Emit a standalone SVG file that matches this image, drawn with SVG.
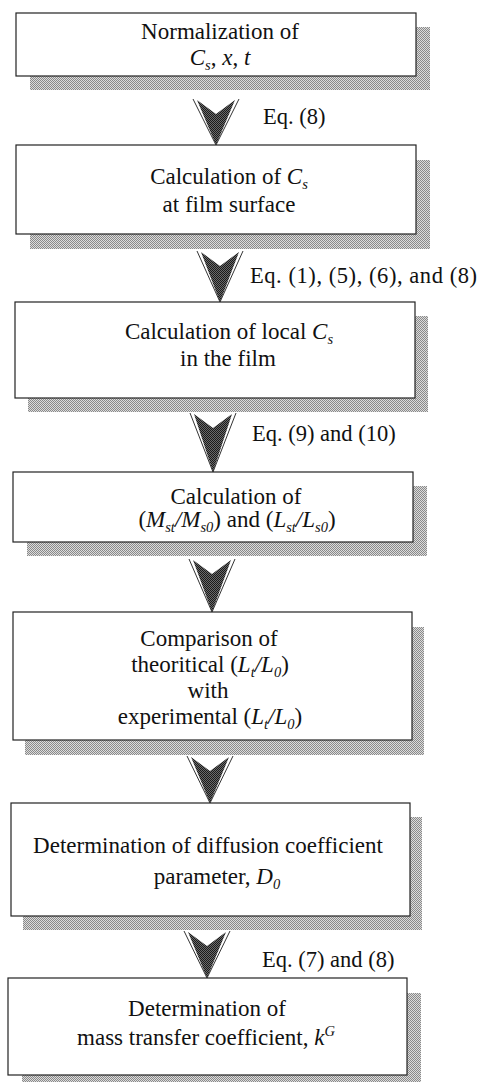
<svg xmlns="http://www.w3.org/2000/svg" width="481" height="1082" viewBox="0 0 481 1082">
<defs>
<pattern id="shade" width="2" height="2" patternUnits="userSpaceOnUse">
<rect width="2" height="2" fill="#dcdcdc"/>
<rect width="1" height="1" fill="#8a8a8a"/>
<rect x="1" y="1" width="1" height="1" fill="#8a8a8a"/>
</pattern>
<pattern id="dark" width="2" height="2" patternUnits="userSpaceOnUse">
<rect width="2" height="2" fill="#6a6a6a"/>
<rect width="1" height="1" fill="#1a1a1a"/>
<rect x="1" y="1" width="1" height="1" fill="#1a1a1a"/>
</pattern>
<style>
.sh{fill:url(#shade);}
.bx{fill:#fff;stroke:#222;stroke-width:1.2;}
.t{font-family:"Liberation Serif","Times New Roman",serif;font-size:23px;fill:#111;text-anchor:middle;}
.l{font-family:"Liberation Serif","Times New Roman",serif;font-size:22.5px;fill:#111;}
.i{font-style:italic;}
.s{font-style:italic;font-size:14.5px;}
.af{fill:url(#dark);}
.ao{fill:none;stroke:#333;stroke-width:1;}
</style>
</defs>
<rect width="481" height="1082" fill="#fff"/>

<g id="connectors">
<g id="a1"><polygon class="af" points="197,100 216,114 235,100 216,145"/><polyline class="ao" points="193,99 216,145 239,99"/></g>
<g id="a2"><polygon class="af" points="201,252 220,266 239,252 220,302"/><polyline class="ao" points="197,251 220,302 243,251"/></g>
<g id="a3"><polygon class="af" points="194,414 213,428 232,414 213,472"/><polyline class="ao" points="190,413 213,472 236,413"/></g>
<g id="a4"><polygon class="af" points="193,560 212,574 231,560 212,612"/><polyline class="ao" points="189,559 212,612 235,559"/></g>
<g id="a5"><polygon class="af" points="191,757 210,771 229,757 210,803"/><polyline class="ao" points="187,756 210,803 233,756"/></g>
<g id="a6"><polygon class="af" points="188,932 207,946 226,932 207,978"/><polyline class="ao" points="184,931 207,978 230,931"/></g>
<text class="l" x="263" y="124">Eq. (8)</text>
<text class="l" x="250" y="283" textLength="227" lengthAdjust="spacing">Eq. (1), (5), (6), and (8)</text>
<text class="l" x="252" y="441">Eq. (9) and (10)</text>
<text class="l" x="262" y="967">Eq. (7) and (8)</text>
</g>

<g id="n1">
<rect class="sh" x="30" y="27" width="400" height="63"/>
<rect class="bx" x="16" y="13" width="400" height="63"/>
<text class="t" x="220" y="39">Normalization of</text>
<text class="t" x="220" y="65"><tspan class="i">C</tspan><tspan class="s" dy="5">s</tspan><tspan dy="-5">, </tspan><tspan class="i">x</tspan>, <tspan class="i">t</tspan></text>
</g>

<g id="n2">
<rect class="sh" x="30" y="160" width="400" height="89"/>
<rect class="bx" x="16" y="145" width="400" height="89"/>
<text class="t" x="229" y="184">Calculation of <tspan class="i">C</tspan><tspan class="s" dy="5">s</tspan></text>
<text class="t" x="229" y="212">at film surface</text>
</g>

<g id="n3">
<rect class="sh" x="28" y="316" width="400" height="96"/>
<rect class="bx" x="15" y="302" width="400" height="96"/>
<text class="t" x="229" y="339">Calculation of local <tspan class="i">C</tspan><tspan class="s" dy="5">s</tspan></text>
<text class="t" x="228" y="366">in the film</text>
</g>

<g id="n4">
<rect class="sh" x="27" y="486" width="400" height="70"/>
<rect class="bx" x="13" y="472" width="400" height="70"/>
<text class="t" x="236" y="504">Calculation of</text>
<text class="t" x="237" y="527">(<tspan class="i">M</tspan><tspan class="s" dy="5">st</tspan><tspan class="i" dy="-5">/M</tspan><tspan class="s" dy="5">s0</tspan><tspan dy="-5">) and (</tspan><tspan class="i">L</tspan><tspan class="s" dy="5">st</tspan><tspan class="i" dy="-5">/L</tspan><tspan class="s" dy="5">s0</tspan><tspan dy="-5">)</tspan></text>
</g>

<g id="n5">
<rect class="sh" x="25" y="627" width="399" height="128"/>
<rect class="bx" x="13" y="612" width="399" height="128"/>
<text class="t" x="209" y="646">Comparison of</text>
<text class="t" x="210" y="672">theoritical (<tspan class="i">L</tspan><tspan class="s" dy="5">t</tspan><tspan class="i" dy="-5">/L</tspan><tspan class="s" dy="5">0</tspan><tspan dy="-5">)</tspan></text>
<text class="t" x="208" y="698">with</text>
<text class="t" x="210" y="724">experimental (<tspan class="i">L</tspan><tspan class="s" dy="5">t</tspan><tspan class="i" dy="-5">/L</tspan><tspan class="s" dy="5">0</tspan><tspan dy="-5">)</tspan></text>
</g>

<g id="n6">
<rect class="sh" x="23" y="817" width="399" height="113"/>
<rect class="bx" x="11" y="803" width="399" height="113"/>
<text class="t" x="208" y="853">Determination of diffusion coefficient</text>
<text class="t" x="217" y="884">parameter, <tspan class="i">D</tspan><tspan class="s" dy="5">0</tspan></text>
</g>

<g id="n7">
<rect class="sh" x="22" y="993" width="399" height="97"/>
<rect class="bx" x="8" y="978" width="399" height="97"/>
<text class="t" x="207" y="1016">Determination of</text>
<text class="t" x="206" y="1045">mass transfer coefficient,  <tspan class="i">k</tspan><tspan class="s" dy="-9">G</tspan></text>
</g>
</svg>
